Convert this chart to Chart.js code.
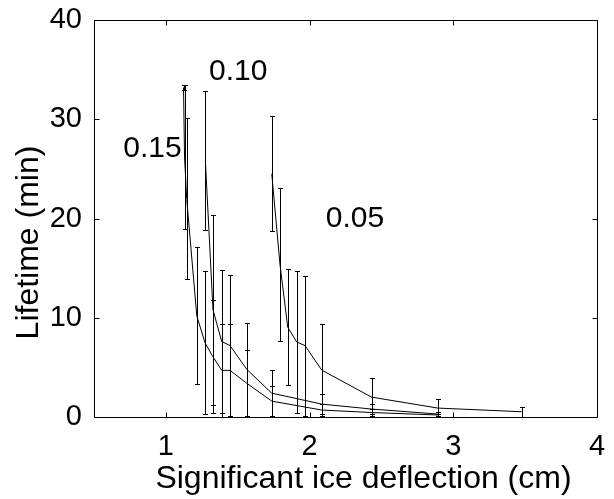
<!DOCTYPE html>
<html>
<head>
<meta charset="utf-8">
<script src="https://cdn.jsdelivr.net/npm/chart.js@4"></script>
<style>
  html, body { margin: 0; padding: 0; background: #fff; }
  #c { display: block; }
</style>
</head>
<body>
<canvas id="c" width="614" height="499"></canvas>
<script>
// ---- data ----
const x015 = [1.123, 1.13, 1.145, 1.215, 1.272, 1.326, 1.389, 1.446, 1.563, 1.737, 2.085, 2.432, 2.892];
const y015 = [33.2, 26.2, 22.0, 10.2, 7.5, 6.1, 4.7, 4.7, 3.4, 1.6, 0.7, 0.45, 0.2];
const e015 = [0.3, 7.3, 8.1, 6.9, 7.2, 5.7, 4.7, 4.7, 3.4, 1.5, 0.6, 0.35, 0.15];

const x010 = [1.275, 1.328, 1.389, 1.446, 1.563, 1.737, 2.085, 2.432, 2.892];
const y010 = [25.8, 10.8, 7.6, 7.2, 4.8, 2.4, 1.3, 0.8, 0.3];
const e010 = [7.0, 9.6, 7.2, 7.1, 4.7, 2.3, 1.0, 0.5, 0.2];

const x005 = [1.737, 1.794, 1.848, 1.91, 1.968, 2.085, 2.432, 2.892, 3.476];
const y005 = [24.5, 15.4, 9.05, 7.56, 7.2, 4.72, 2.0, 0.9, 0.53];
const e005 = [5.8, 7.7, 5.85, 7.2, 7.05, 4.7, 1.97, 0.87, 0.5];

const xTicks = [1, 2, 3, 4];
const yTicks = [0, 10, 20, 30, 40];
const seriesLabels = ['0.15', '0.10', '0.05'];
const labelAnchorX = [0.907, 1.504, 2.316];
const labelAnchorY = [27.0, 34.8, 20.0];
const xTitle = 'Significant ice deflection (cm)';
const yTitle = 'Lifetime (min)';

// ---- build ----
const FONT = '"Liberation Sans", Arial, Helvetica, sans-serif';
function pts(xs, ys) { return xs.map((x, i) => ({ x: x, y: ys[i] })); }
const seriesX = [x015, x010, x005];
const seriesY = [y015, y010, y005];
const seriesE = [e015, e010, e005];

function zeroPad(s) { s.paddingTop = 0; s.paddingBottom = 0; s.paddingLeft = 0; s.paddingRight = 0; }

const decorPlugin = {
  id: 'decor',
  afterDatasetsDraw(chart) {
    const ctx = chart.ctx;
    const xs = chart.scales.x, ys = chart.scales.y;
    const a = chart.chartArea;
    ctx.save();
    // error bars
    ctx.strokeStyle = '#000';
    ctx.lineWidth = 1;
    const cap = 2.5;
    for (let s = 0; s < seriesX.length; s++) {
      for (let i = 0; i < seriesX[s].length; i++) {
        const px = Math.round(xs.getPixelForValue(seriesX[s][i])) + 0.5;
        const yTop = Math.round(ys.getPixelForValue(seriesY[s][i] + seriesE[s][i])) + 0.5;
        const yBot = Math.round(ys.getPixelForValue(Math.max(0, seriesY[s][i] - seriesE[s][i]))) + 0.5;
        ctx.beginPath();
        ctx.moveTo(px, yTop); ctx.lineTo(px, yBot);
        ctx.moveTo(px - cap, yTop); ctx.lineTo(px + cap, yTop);
        ctx.moveTo(px - cap, yBot); ctx.lineTo(px + cap, yBot);
        ctx.stroke();
      }
    }
    // box
    const L = Math.round(a.left) + 0.5, R = Math.round(a.right) + 0.5;
    const T = Math.round(a.top) + 0.5, B = Math.round(a.bottom) + 0.5;
    ctx.beginPath();
    ctx.rect(L, T, R - L, B - T);
    ctx.stroke();
    // inward ticks
    const tl = 5;
    ctx.beginPath();
    xTicks.forEach(v => {
      const px = Math.round(xs.getPixelForValue(v)) + 0.5;
      ctx.moveTo(px, B); ctx.lineTo(px, B - tl);
      ctx.moveTo(px, T); ctx.lineTo(px, T + tl);
    });
    yTicks.forEach(v => {
      const py = Math.round(ys.getPixelForValue(v)) + 0.5;
      ctx.moveTo(L, py); ctx.lineTo(L + tl, py);
      ctx.moveTo(R, py); ctx.lineTo(R - tl, py);
    });
    ctx.stroke();
    // series annotations
    ctx.fillStyle = '#000';
    ctx.font = '30px ' + FONT;
    ctx.textAlign = 'center';
    ctx.textBaseline = 'middle';
    seriesLabels.forEach((t, i) => {
      ctx.fillText(t, xs.getPixelForValue(labelAnchorX[i]), ys.getPixelForValue(labelAnchorY[i]));
    });
    // axis titles
    ctx.font = '32px ' + FONT;
    ctx.textBaseline = 'alphabetic';
    ctx.fillText(xTitle, (a.left + a.right) / 2 + 18, 488);
    ctx.save();
    ctx.translate(38, (a.top + a.bottom) / 2 + 24);
    ctx.rotate(-Math.PI / 2);
    ctx.fillText(yTitle, 0, 0);
    ctx.restore();
    ctx.restore();
  }
};

const lineStyle = { showLine: true, borderColor: '#000', borderWidth: 1, pointRadius: 0, tension: 0, fill: false };

new Chart(document.getElementById('c'), {
  type: 'scatter',
  data: {
    datasets: [
      Object.assign({ label: seriesLabels[0], data: pts(x015, y015) }, lineStyle),
      Object.assign({ label: seriesLabels[1], data: pts(x010, y010) }, lineStyle),
      Object.assign({ label: seriesLabels[2], data: pts(x005, y005) }, lineStyle)
    ]
  },
  options: {
    responsive: false,
    animation: false,
    devicePixelRatio: 1,
    layout: { padding: { top: 20, right: 17, left: 0, bottom: 0 } },
    plugins: { legend: { display: false }, tooltip: { enabled: false } },
    scales: {
      x: {
        type: 'linear', min: 0.5, max: 4,
        afterBuildTicks: s => { s.ticks = xTicks.map(v => ({ value: v })); },
        ticks: { color: '#000', font: { family: FONT, size: 29 }, padding: 13, maxRotation: 0, autoSkip: false },
        grid: { drawOnChartArea: false, drawTicks: false },
        border: { display: false },
        afterFit: s => { s.height = 82; zeroPad(s); }
      },
      y: {
        type: 'linear', min: 0, max: 40,
        afterBuildTicks: s => { s.ticks = yTicks.map(v => ({ value: v })); },
        ticks: { color: '#000', font: { family: FONT, size: 29 }, padding: 12, autoSkip: false },
        grid: { drawOnChartArea: false, drawTicks: false },
        border: { display: false },
        afterFit: s => { s.width = 94; zeroPad(s); }
      }
    }
  },
  plugins: [decorPlugin]
});
</script>
</body>
</html>
